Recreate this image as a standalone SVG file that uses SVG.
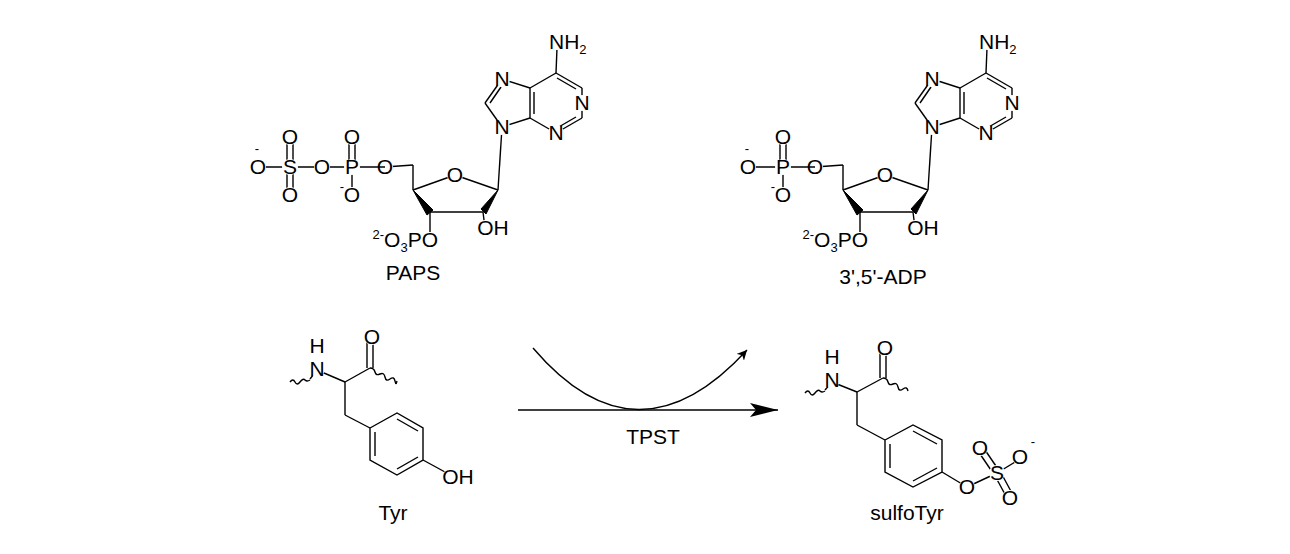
<svg xmlns="http://www.w3.org/2000/svg" width="1290" height="554" viewBox="0 0 1290 554">
<style>
line,path.b{stroke:#000;stroke-width:1.4;fill:none}
text{font-family:"Liberation Sans",Arial,sans-serif;font-size:21px;fill:#000;text-anchor:middle}
.w{fill:#000;stroke:#000;stroke-width:1}
.m{fill:#fff;stroke:none}
.sm{font-size:13px}
.ring{fill:none;stroke:#000;stroke-width:1.4}
</style>
<defs>
<marker id="big" markerWidth="30" markerHeight="14" refX="28" refY="7" orient="auto" markerUnits="userSpaceOnUse"><path d="M0,0 L28,7 L0,14 L6,7 Z" fill="#000"/></marker>
<marker id="small" markerWidth="12" markerHeight="10" refX="10" refY="5" orient="auto" markerUnits="userSpaceOnUse"><path d="M0,0 L10,5 L0,10 L3,5 Z" fill="#000"/></marker>
<g id="nuc">
<line x1="530" y1="88" x2="530" y2="118"/><line x1="534" y1="92" x2="534" y2="114"/>
<line x1="530" y1="88" x2="556" y2="73"/><line x1="556" y1="73" x2="582" y2="88"/><line x1="557" y1="78" x2="576" y2="89"/>
<line x1="582" y1="88" x2="582" y2="118"/><line x1="582" y1="118" x2="556" y2="133"/><line x1="576" y1="117" x2="557" y2="128"/>
<line x1="556" y1="133" x2="530" y2="118"/>
<line x1="530" y1="118" x2="502" y2="127"/><line x1="502" y1="127" x2="485" y2="103"/><line x1="485" y1="103" x2="502" y2="79"/><line x1="490" y1="103" x2="501" y2="87"/>
<line x1="502" y1="79" x2="530" y2="88"/>
<line x1="556" y1="73" x2="557" y2="48"/>
<line x1="502" y1="127" x2="498" y2="190"/>
<line x1="498" y1="190" x2="455" y2="175"/><line x1="455" y1="175" x2="413" y2="190"/>
<line x1="483" y1="212" x2="430" y2="212"/>
<polygon class="w" points="498,190 481,209 486,214"/>
<polygon class="w" points="413,190 427,215 433,210"/>
<line x1="413" y1="190" x2="413" y2="165"/><line x1="413" y1="165" x2="385" y2="167"/>
<line x1="483" y1="212" x2="485" y2="228"/>
<line x1="430" y1="212" x2="430" y2="232"/>
<circle class="m" cx="557" cy="42" r="8"/><circle class="m" cx="582" cy="103" r="8"/><circle class="m" cx="556" cy="133" r="8"/>
<circle class="m" cx="502" cy="79" r="8"/><circle class="m" cx="502" cy="127" r="8"/><circle class="m" cx="455" cy="175" r="8"/>
<circle class="m" cx="385" cy="167" r="8"/><circle class="m" cx="485" cy="228" r="8"/><circle class="m" cx="430" cy="240" r="8"/>
<text x="549" y="49" style="text-anchor:start">NH<tspan class="sm" dy="5">2</tspan></text>
<text x="582" y="110">N</text><text x="556" y="140">N</text><text x="502" y="86">N</text><text x="502" y="134">N</text>
<text x="455" y="182">O</text><text x="385" y="174">O</text><text x="493" y="235">OH</text>
<text x="438" y="247" style="text-anchor:end"><tspan class="sm" dy="-8">2-</tspan><tspan dy="8">O</tspan><tspan class="sm" dy="5">3</tspan><tspan dy="-5">PO</tspan></text>
</g>
</defs>
<g id="PAPS">
<use href="#nuc"/>
<line x1="258" y1="167" x2="385" y2="167"/>
<line x1="287" y1="137" x2="287" y2="167"/><line x1="293" y1="137" x2="293" y2="167"/>
<line x1="287" y1="167" x2="287" y2="195"/><line x1="293" y1="167" x2="293" y2="195"/>
<line x1="349" y1="137" x2="349" y2="167"/><line x1="355" y1="137" x2="355" y2="167"/>
<line x1="352" y1="167" x2="352" y2="195"/>
<circle class="m" cx="258" cy="167" r="8"/><circle class="m" cx="290" cy="167" r="8"/><circle class="m" cx="322" cy="167" r="8"/><circle class="m" cx="352" cy="167" r="8"/>
<circle class="m" cx="290" cy="137" r="8"/><circle class="m" cx="290" cy="195" r="8"/><circle class="m" cx="352" cy="137" r="8"/><circle class="m" cx="352" cy="195" r="8"/>
<text x="258" y="174">O</text><text x="290" y="174">S</text><text x="322" y="174">O</text><text x="352" y="174">P</text>
<text x="290" y="144">O</text><text x="290" y="202">O</text><text x="352" y="144">O</text><text x="352" y="202">O</text>
<text class="sm" x="257" y="153">-</text><text class="sm" x="342" y="191">-</text>
<text x="413" y="280">PAPS</text>
</g>
<g id="ADP">
<use href="#nuc" transform="translate(430,0)"/>
<line x1="748" y1="167" x2="815" y2="167"/>
<line x1="780" y1="137" x2="780" y2="167"/><line x1="786" y1="137" x2="786" y2="167"/>
<line x1="783" y1="167" x2="783" y2="195"/>
<circle class="m" cx="748" cy="167" r="8"/><circle class="m" cx="783" cy="167" r="8"/><circle class="m" cx="783" cy="137" r="8"/><circle class="m" cx="783" cy="195" r="8"/>
<text x="748" y="174">O</text><text x="783" y="174">P</text><text x="783" y="144">O</text><text x="783" y="202">O</text>
<text class="sm" x="747" y="153">-</text><text class="sm" x="773" y="191">-</text>
<text x="883" y="284">3',5'-ADP</text>
</g>
<g id="Tyr">
<path class="b" d="M290,382 q3,-4 5,0 t5,0 t5,-2 t5,0 M310,379 L317,370"/>
<line x1="317" y1="370" x2="345" y2="382"/><line x1="345" y1="382" x2="370" y2="368"/>
<line x1="367" y1="368" x2="367" y2="340"/><line x1="373" y1="368" x2="373" y2="340"/>
<path class="b" d="M370,368 q4,0 5,4 t5,2 t5,3 t5,2 t5,2 t2,0"/>
<line x1="345" y1="382" x2="345" y2="415"/><line x1="345" y1="415" x2="370" y2="428"/>
<polygon class="ring" points="370,428 397,413 423,428 423,460 397,475 370,460"/>
<line x1="375" y1="432" x2="375" y2="456"/><line x1="397" y1="419" x2="418" y2="431"/><line x1="418" y1="457" x2="397" y2="469"/>
<line x1="423" y1="460" x2="445" y2="472"/>
<circle class="m" cx="317" cy="369" r="8"/><circle class="m" cx="372" cy="337" r="8"/><circle class="m" cx="451" cy="476" r="8"/>
<text x="317" y="353">H</text><text x="317" y="376">N</text><text x="372" y="344">O</text><text x="458" y="484">OH</text>
<text x="393" y="520">Tyr</text>
</g>
<g id="sulfoTyr">
<path class="b" d="M805,393 q3,-4 5,0 t5,0 t5,-2 t5,0 M825,390 L832,382"/>
<line x1="832" y1="382" x2="857" y2="392"/><line x1="857" y1="392" x2="883" y2="378"/>
<line x1="880" y1="378" x2="880" y2="350"/><line x1="886" y1="378" x2="886" y2="350"/>
<path class="b" d="M883,378 q4,0 5,4 t5,2 t5,3 t5,2 t5,2"/>
<line x1="857" y1="392" x2="857" y2="425"/><line x1="857" y1="425" x2="885" y2="440"/>
<polygon class="ring" points="885,440 913,425 942,440 942,472 913,487 885,472"/>
<line x1="890" y1="444" x2="890" y2="468"/><line x1="913" y1="431" x2="937" y2="444"/><line x1="937" y1="468" x2="913" y2="481"/>
<line x1="942" y1="472" x2="967" y2="487"/><line x1="967" y1="487" x2="997" y2="473"/>
<line x1="997" y1="473" x2="1020" y2="459"/>
<line x1="995" y1="476" x2="978" y2="451"/><line x1="1000" y1="472" x2="983" y2="447"/>
<line x1="994" y1="474" x2="1007" y2="498"/><line x1="1000" y1="471" x2="1013" y2="495"/>
<circle class="m" cx="832" cy="380" r="8"/><circle class="m" cx="885" cy="348" r="8"/>
<circle class="m" cx="967" cy="487" r="8"/><circle class="m" cx="997" cy="473" r="8"/><circle class="m" cx="980" cy="448" r="8"/><circle class="m" cx="1020" cy="457" r="8"/><circle class="m" cx="1010" cy="498" r="8"/>
<text x="832" y="364">H</text><text x="832" y="387">N</text><text x="885" y="355">O</text>
<text x="967" y="494">O</text><text x="997" y="480">S</text><text x="980" y="455">O</text><text x="1020" y="464">O</text><text x="1010" y="505">O</text>
<text class="sm" x="1033" y="446">-</text>
<text x="907" y="520">sulfoTyr</text>
</g>
<g id="connectors">
<line x1="518" y1="410" x2="778" y2="410" marker-end="url(#big)"/>
<path class="b" d="M533,348 Q637,470 747,350" marker-end="url(#small)"/>
<text x="653" y="444">TPST</text>
</g>
</svg>
